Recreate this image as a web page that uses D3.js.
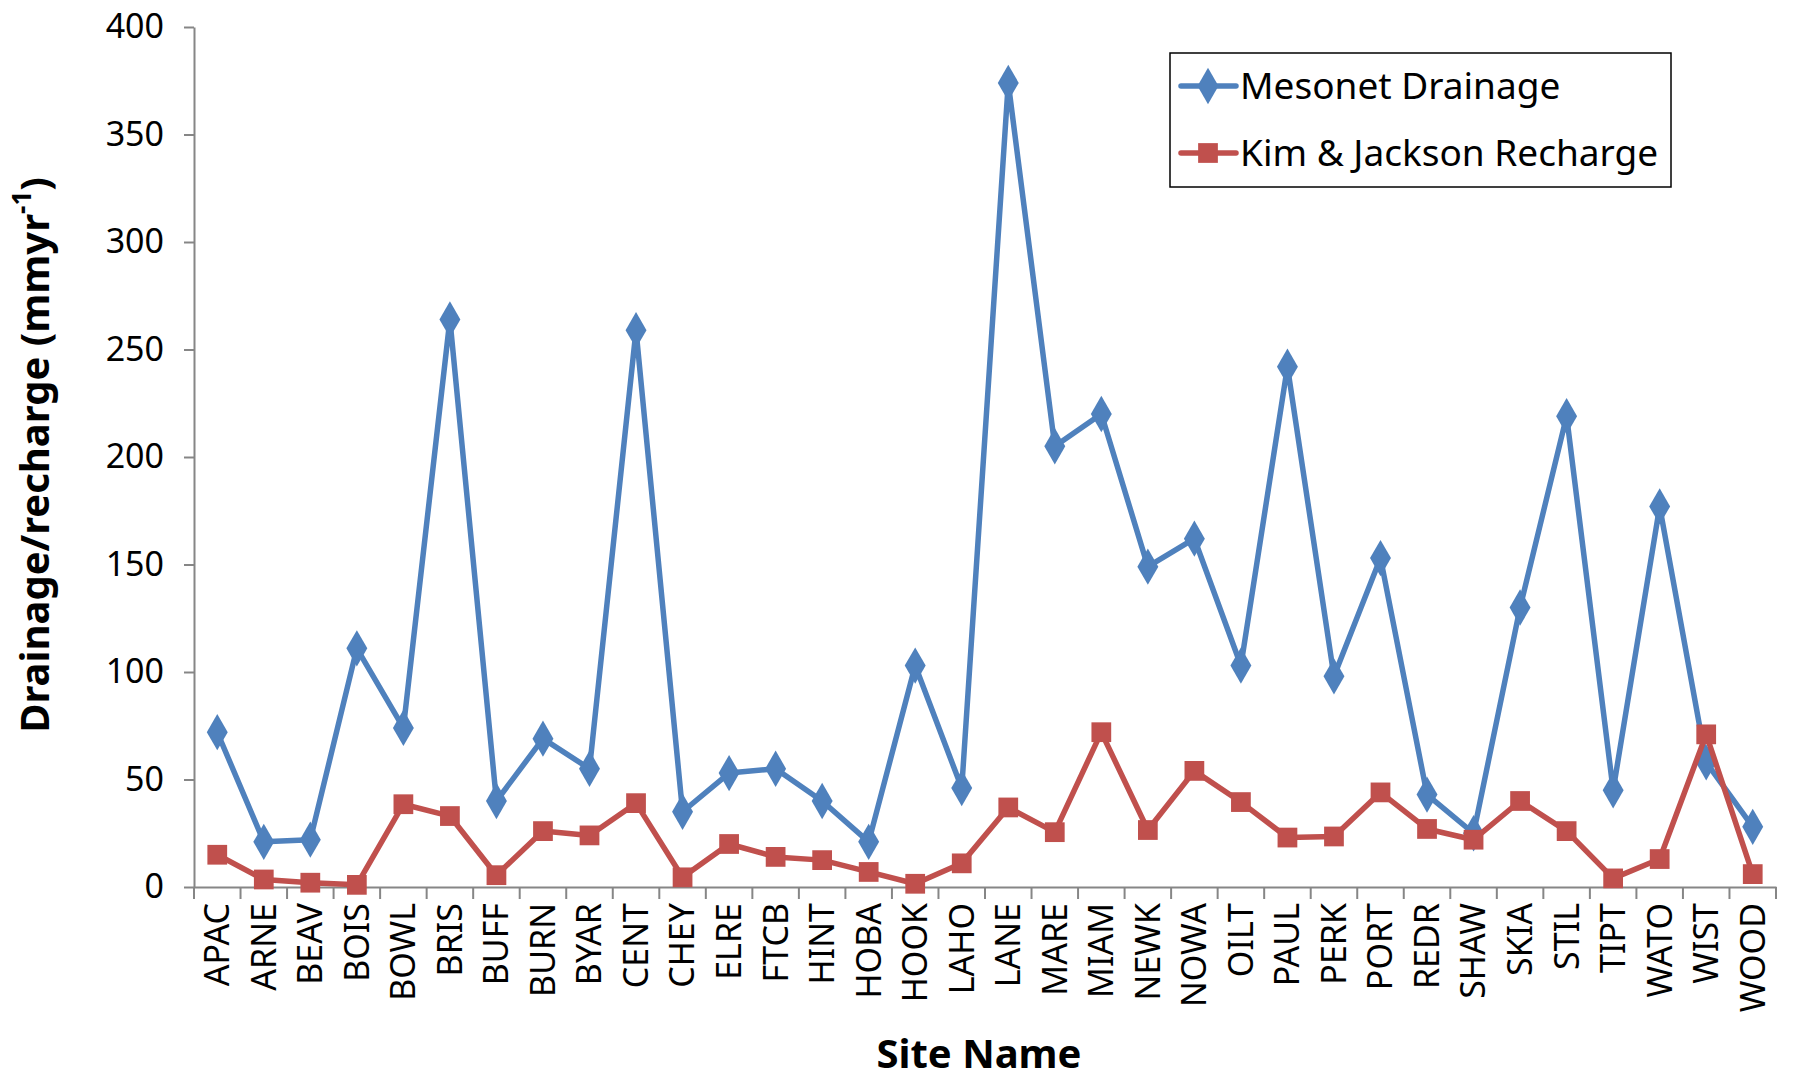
<!DOCTYPE html>
<html lang="en">
<head>
<meta charset="UTF-8">
<title>Drainage vs Recharge</title>
<script src="https://d3js.org/d3.v7.min.js"></script>
<style>
    body { margin: 0; background: #fff; }
    svg text { font-family: "Noto Sans", "Open Sans", sans-serif; fill: #000; }
    .axis path, .axis line { stroke: #868686; stroke-width: 2px; }
    .axis-y text { font-size: 34px; }
    .axis-x text { font-size: 34px; }
    .axis-title { font-size: 40px; font-weight: bold; }
    .legend-text { font-size: 37px; }
</style>
</head>
<body>
<svg width="1795" height="1082"></svg>
<script>
// Data
const sites = ["APAC", "ARNE", "BEAV", "BOIS", "BOWL", "BRIS", "BUFF", "BURN", "BYAR", "CENT",
    "CHEY", "ELRE", "FTCB", "HINT", "HOBA", "HOOK", "LAHO", "LANE", "MARE", "MIAM",
    "NEWK", "NOWA", "OILT", "PAUL", "PERK", "PORT", "REDR", "SHAW", "SKIA", "STIL",
    "TIPT", "WATO", "WIST", "WOOD"];
const mesonetDrainage = [72, 21, 22, 111, 74, 264, 40, 69, 55, 259,
    35, 53, 55, 40, 21, 103, 46, 374, 205, 220,
    149, 162, 103, 242, 98, 153, 43, 25, 130, 219,
    45, 177, 58, 28];
const kimJacksonRecharge = [15, 3.5, 2, 1, 38.5, 33, 5.5, 26, 24, 39,
    4.5, 20, 14, 12.5, 7, 1.5, 11, 37, 25.5, 72,
    26.5, 54, 39.5, 23, 23.5, 44, 27, 22, 40, 26,
    4, 13, 71, 6];
const yTicks = [0, 50, 100, 150, 200, 250, 300, 350, 400];

const series = [
    { name: "Mesonet Drainage", values: mesonetDrainage, color: "#4F81BD", marker: d3.symbolDiamond, size: 380 },
    { name: "Kim & Jackson Recharge", values: kimJacksonRecharge, color: "#C0504D", marker: d3.symbolSquare, size: 390 }
];

const svg = d3.select("svg"),
    margin = { top: 27, right: 19, bottom: 195, left: 194 },
    width = +svg.attr("width") - margin.left - margin.right,
    height = +svg.attr("height") - margin.top - margin.bottom,
    g = svg.append("g").attr("transform", "translate(" + margin.left + "," + margin.top + ")");

const x = d3.scaleBand().domain(sites).range([0, width]);
const y = d3.scaleLinear().domain([0, 400]).range([height, 0]);

// Y axis
g.append("g")
    .attr("class", "axis axis-y")
    .call(d3.axisLeft(y).tickValues(yTicks).tickSize(10).tickPadding(20).tickSizeOuter(0));

// X axis, ticks between categories
const xAxis = g.append("g")
    .attr("class", "axis axis-x")
    .attr("transform", "translate(0," + height + ")")
    .call(d3.axisBottom(x).tickSize(0).tickSizeOuter(0));
xAxis.selectAll("text")
    .attr("transform", "rotate(-90)")
    .attr("x", -16)
    .attr("y", 0)
    .attr("dy", "0.35em")
    .style("text-anchor", "end");
xAxis.selectAll(".sep")
    .data(d3.range(sites.length + 1))
    .enter().append("line")
    .attr("x1", i => i * x.step())
    .attr("x2", i => i * x.step())
    .attr("y1", 0)
    .attr("y2", 12);

// Lines and markers
series.forEach(s => {
    const line = d3.line()
        .x((d, i) => x(sites[i]) + x.bandwidth() / 2)
        .y(d => y(d));
    g.append("path")
        .datum(s.values)
        .attr("fill", "none")
        .attr("stroke", s.color)
        .attr("stroke-width", 5.5)
        .attr("stroke-linejoin", "round")
        .attr("d", line);
    g.selectAll(null)
        .data(s.values)
        .enter().append("path")
        .attr("d", d3.symbol().type(s.marker).size(s.size))
        .attr("fill", s.color)
        .attr("transform", (d, i) => "translate(" + (x(sites[i]) + x.bandwidth() / 2) + "," + y(d) + ")");
});

// Axis titles
svg.append("text")
    .attr("class", "axis-title")
    .attr("x", margin.left + width / 2 - 6)
    .attr("y", 1068)
    .style("text-anchor", "middle")
    .text("Site Name");

const yTitle = svg.append("text")
    .attr("class", "axis-title")
    .attr("transform", "translate(49," + 455 + ") rotate(-90)")
    .style("text-anchor", "middle");
yTitle.append("tspan").text("Drainage/recharge (mmyr");
yTitle.append("tspan").attr("baseline-shift", "super").style("font-size", "26px").text("-1");
yTitle.append("tspan").text(")");

// Legend
const legend = svg.append("g").attr("transform", "translate(1170,53)");
legend.append("rect")
    .attr("width", 501)
    .attr("height", 134)
    .attr("fill", "#fff")
    .attr("stroke", "#000")
    .attr("stroke-width", 1.5);
series.forEach((s, i) => {
    const ly = 33 + i * 67;
    legend.append("line")
        .attr("x1", 11).attr("x2", 66)
        .attr("y1", ly).attr("y2", ly)
        .attr("stroke", s.color)
        .attr("stroke-width", 5.5)
        .attr("stroke-linecap", "round");
    legend.append("path")
        .attr("d", d3.symbol().type(s.marker).size(s.size))
        .attr("fill", s.color)
        .attr("transform", "translate(38," + ly + ")");
    legend.append("text")
        .attr("class", "legend-text")
        .attr("x", 70)
        .attr("y", ly)
        .attr("dy", "0.35em")
        .text(s.name);
});
</script>
</body>
</html>
